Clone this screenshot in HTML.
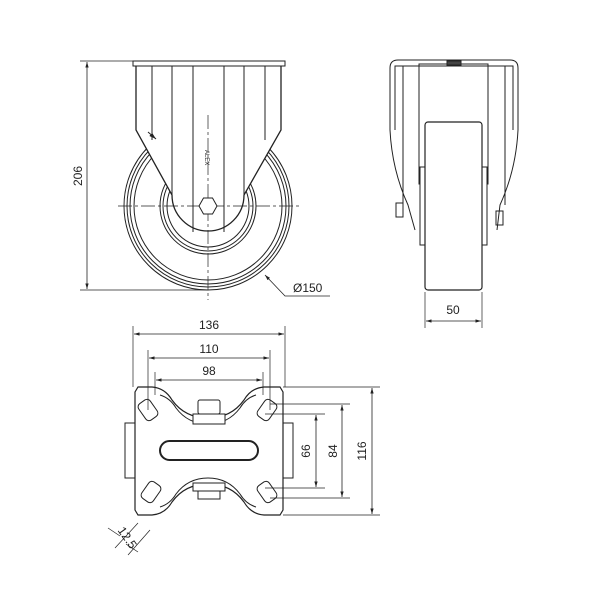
<!DOCTYPE html>
<html><head><meta charset="utf-8"><style>html,body{margin:0;background:#fff}svg{display:block}</style></head><body>
<svg width="600" height="600" viewBox="0 0 600 600" xmlns="http://www.w3.org/2000/svg" font-family="Liberation Sans, sans-serif" font-size="12" fill="none" stroke="#222" stroke-width="1">
<defs><marker id="a" viewBox="0 0 10 10" refX="10" refY="5" markerWidth="7" markerHeight="7" orient="auto-start-reverse"><path d="M0,2 L10,5 L0,8" fill="#222" stroke="none"/></marker></defs>
<!-- FRONT VIEW -->
<g>
<circle cx="208" cy="206" r="84"/><circle cx="208" cy="206" r="81"/><circle cx="208" cy="206" r="78"/><circle cx="208" cy="206" r="74"/>
<circle cx="208" cy="206" r="48"/><circle cx="208" cy="206" r="45"/><circle cx="208" cy="206" r="41"/>
<path d="M136,66 V130 L172,195 A36,36 0 0 0 244,195 L281,130 V66" fill="#fff" stroke-width="1.3"/>
<rect x="133" y="61" width="152" height="5" fill="#fff"/>
<path d="M152,66 V140 M172,66 V195 M193,66 V232 M224,66 V232 M244,66 V195 M265,66 V140"/>
<path d="M118,206 H300 M208,115 V300" stroke-dasharray="14,3,3,3" stroke-width="0.7"/>
<polygon points="199,206 203.5,198 212.5,198 217,206 212.5,214 203.5,214" fill="#fff"/>
<line x1="148" y1="132" x2="156" y2="139" marker-end="url(#a)"/>
<text x="205" y="150" font-size="6" fill="#222" stroke="none" transform="rotate(90 205 150)">ALEX</text>
<line x1="80" y1="61" x2="133" y2="61" stroke-width="0.7"/><line x1="80" y1="290" x2="208" y2="290" stroke-width="0.7"/>
<line x1="87" y1="62" x2="87" y2="289" marker-start="url(#a)" marker-end="url(#a)" stroke-width="0.8"/>
<text x="82" y="176" fill="#222" stroke="none" transform="rotate(-90 82 176)" text-anchor="middle">206</text>
<path d="M265,275 L285,296 H330" stroke-width="0.8" marker-start="url(#a)"/>
<text x="293" y="292" fill="#222" stroke="none">Ø150</text>
</g>
<!-- SIDE VIEW -->
<g>
<path d="M390,130 V68 Q390,60 398,60 H510 Q518,60 518,68 V130 Q516,170 500,205 L497,230 M390,130 Q392,170 408,205 L415,230"/>
<path d="M395,130 V66 H513 V130 M403,66 V205 M505,66 V205"/>
<rect x="419" y="64" width="69" height="120" fill="none"/>
<rect x="420" y="167" width="67" height="78" fill="#fff"/>
<rect x="425" y="122" width="57" height="168" rx="3" fill="#fff" stroke-width="1.2"/>
<rect x="447" y="61" width="14" height="4" fill="#444"/>
<rect x="396" y="203" width="7" height="14"/><rect x="496" y="211" width="7" height="14"/>
<line x1="425" y1="292" x2="425" y2="328" stroke-width="0.7"/><line x1="482" y1="292" x2="482" y2="328" stroke-width="0.7"/>
<line x1="426" y1="321" x2="481" y2="321" marker-start="url(#a)" marker-end="url(#a)" stroke-width="0.8"/>
<text x="453" y="314" fill="#222" stroke="none" text-anchor="middle">50</text>
</g>
<!-- PLAN VIEW -->
<g>
<path d="M138,387 H152 Q165,388 172,400 Q185,418 208,418 Q231,418 244,400 Q251,388 264,387 H280 L283,392 V510 L280,515 H264 Q251,514 244,502 Q231,484 208,484 Q185,484 172,502 Q165,514 152,515 H138 L135,510 V392 Z" stroke-width="1.2" fill="#fff"/>
<path d="M160,395 Q170,398 176,408 Q188,424 208,424 Q228,424 240,408 Q246,398 256,395"/>
<path d="M160,507 Q170,504 176,494 Q188,478 208,478 Q228,478 240,494 Q246,504 256,507"/>
<rect x="125" y="423" width="10" height="55"/><rect x="283" y="423" width="10" height="55"/>
<rect x="160" y="441" width="98" height="19" rx="9.5" stroke-width="2"/>
<rect x="193" y="414" width="32" height="10" fill="#fff"/><rect x="198" y="400" width="22" height="14" rx="2" fill="#fff"/>
<rect x="193" y="483" width="32" height="8" fill="#fff"/><rect x="198" y="491" width="22" height="8" fill="#fff"/>
<rect x="141" y="400" width="14" height="20" rx="4" transform="rotate(-35 148 410)"/>
<rect x="260" y="400" width="14" height="20" rx="4" transform="rotate(35 267 410)"/>
<rect x="144" y="482" width="14" height="20" rx="4" transform="rotate(35 151 492)"/>
<rect x="260" y="482" width="14" height="20" rx="4" transform="rotate(-35 267 492)"/>
<g stroke-width="0.7">
<line x1="133" y1="326" x2="133" y2="387"/><line x1="285" y1="326" x2="285" y2="387"/>
<line x1="148" y1="350" x2="148" y2="410"/><line x1="270" y1="350" x2="270" y2="410"/>
<line x1="155" y1="372" x2="155" y2="395"/><line x1="263" y1="372" x2="263" y2="395"/>
<line x1="283" y1="387" x2="380" y2="387"/><line x1="283" y1="515" x2="380" y2="515"/>
<line x1="270" y1="404" x2="350" y2="404"/><line x1="270" y1="498" x2="350" y2="498"/>
<line x1="265" y1="414" x2="325" y2="414"/><line x1="265" y1="488" x2="325" y2="488"/>
<line x1="138" y1="523" x2="115" y2="548"/><line x1="150" y1="530" x2="128" y2="555"/>
</g>
<line x1="134" y1="334" x2="284" y2="334" marker-start="url(#a)" marker-end="url(#a)" stroke-width="0.8"/>
<line x1="149" y1="358" x2="269" y2="358" marker-start="url(#a)" marker-end="url(#a)" stroke-width="0.8"/>
<line x1="156" y1="380" x2="262" y2="380" marker-start="url(#a)" marker-end="url(#a)" stroke-width="0.8"/>
<line x1="372" y1="388" x2="372" y2="514" marker-start="url(#a)" marker-end="url(#a)" stroke-width="0.8"/>
<line x1="342" y1="405" x2="342" y2="497" marker-start="url(#a)" marker-end="url(#a)" stroke-width="0.8"/>
<line x1="316" y1="415" x2="316" y2="487" marker-start="url(#a)" marker-end="url(#a)" stroke-width="0.8"/>
<line x1="108" y1="528" x2="120" y2="536" stroke-width="0.7"/><line x1="126" y1="544" x2="138" y2="552" stroke-width="0.7"/>
<g fill="#222" stroke="none" text-anchor="middle">
<text x="209" y="329">136</text><text x="209" y="353">110</text><text x="209" y="375">98</text>
<text x="366" y="451" transform="rotate(-90 366 451)">116</text>
<text x="337" y="451" transform="rotate(-90 337 451)">84</text>
<text x="310" y="451" transform="rotate(-90 310 451)">66</text>
<text x="124" y="540" transform="rotate(55 124 540)">12.5</text>
</g>
</g>
</svg>
</body></html>
